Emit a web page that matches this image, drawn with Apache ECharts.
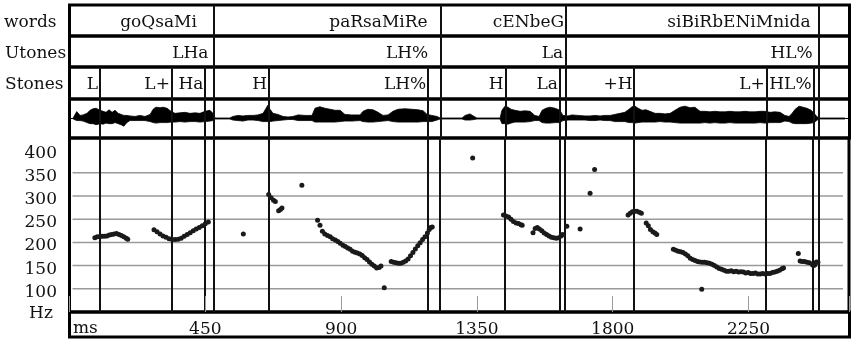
<!DOCTYPE html>
<html>
<head>
<meta charset="utf-8">
<script src="https://cdn.jsdelivr.net/npm/echarts@6/dist/echarts.min.js"></script>
<style>
  html, body { margin: 0; padding: 0; background: #fff; }
  #chart { width: 852px; height: 339px; }
</style>
</head>
<body>
<div id="chart"></div>
<script>
// ---- annotation tiers (times in ms) ----
const words = ['goQsaMi', 'paRsaMiRe', 'cENbeG', 'siBiRbENiMnida'];
const wordEnds = [480, 1229, 1643, 2483];
const wordLabelAt = [422, 1186, 1638, 2454];

const utones = ['LHa', 'LH%', 'La', 'HL%'];
const utoneLabelAt = [460, 1188, 1635, 2461];

const stones = ['L', 'L+', 'Ha', 'H', 'LH%', 'H', 'La', '+H', 'L+', 'HL%'];
const stoneEnds = [101, 339, 450, 661, 1188, 1444, 1624, 1871, 2309, 2464];

const timeMax = 2583;
const timeTicks = [450, 900, 1350, 1800, 2250];
const hzTicks = [100, 150, 200, 250, 300, 350, 400];
const hzGrid = [100, 150, 200, 250, 300, 350];

// ---- waveform envelope: time (ms), upper and lower amplitude ----
const waveMs = [12, 18, 24, 35, 45, 58, 68, 78, 88, 101, 111, 121, 131, 141, 151, 161, 171, 180, 190, 200,
  217, 233, 250, 267, 277, 286, 300, 310, 323, 336, 349, 366, 382, 399, 416, 432, 449, 465, 475, 482,
  531, 541, 558, 574, 591, 608, 624, 641, 651, 657, 664, 674, 690, 707, 724, 740, 757, 780, 803, 813,
  829, 846, 863, 879, 896, 912, 935, 962, 972, 988, 1005, 1022, 1038, 1055, 1071, 1088, 1111, 1134, 1154, 1171,
  1184, 1200, 1217, 1227, 1300, 1310, 1326, 1340, 1349, 1426, 1432, 1442, 1452, 1462, 1475, 1492, 1508, 1525, 1541, 1555,
  1565, 1578, 1591, 1608, 1624, 1634, 1651, 1664, 1684, 1707, 1724, 1740, 1757, 1773, 1790, 1806, 1823, 1839, 1853, 1863,
  1873, 1883, 1896, 1909, 1922, 1939, 1956, 1972, 1989, 2005, 2022, 2038, 2055, 2071, 2088, 2104, 2121, 2137, 2154, 2171,
  2187, 2204, 2220, 2237, 2253, 2270, 2287, 2303, 2320, 2336, 2353, 2369, 2383, 2393, 2403, 2416, 2429, 2442, 2456, 2466,
  2476, 2486, 2568];
const waveTop = [0.5, 2, 6.7, 3, 3.5, 5, 8, 9.5, 10, 8, 7, 6, 8.5, 6, 8, 5, 4, 3, 3, 2.5,
  2, 3, 2, 4, 9, 11, 10.5, 11, 10, 7, 5, 5.5, 6, 5, 5.5, 5, 7, 8, 5, 0.5,
  0.5, 2, 3, 2.5, 3, 3, 3.5, 5, 10, 13, 9, 5, 4, 2, 1.5, 2, 3.5, 3, 3, 10,
  11.5, 10, 9, 8, 8, 4, 3.5, 3.5, 7, 9, 8.5, 6, 3, 3.5, 7, 9, 9.5, 9, 8.5, 7.5,
  4, 3, 2, 0.5, 0.5, 3, 4.5, 2, 0.5, 0.5, 8, 12, 11, 9, 8, 7, 7.5, 7, 3, 2,
  8, 10, 11, 10, 8, 3, 2.5, 3.5, 3, 2.5, 2.5, 3, 2.5, 3, 3, 4, 5, 6, 9, 11.5,
  12, 10, 8, 8.5, 7, 5, 5, 4.5, 5, 8, 11, 12, 10.5, 11, 7, 7, 6.5, 7, 6.5, 6.5,
  7, 6.5, 6.5, 7, 6.5, 6.5, 7, 7, 6, 6.5, 6, 3, 2, 5, 9, 12, 11, 10, 8, 5,
  1.5, 0.5, 0.5];
const waveBottom = [0.5, 1.5, 2, 2, 2.5, 4, 5, 5, 6, 5, 5.5, 4.5, 5, 5, 4, 5, 6, 7.5, 4, 2,
  2, 2, 2, 3, 4, 4.5, 4, 4, 4, 3.5, 3.5, 3, 3.5, 3, 3, 3.5, 3, 2.5, 2, 0.5,
  0.5, 1.5, 2, 2.5, 1.5, 1.5, 2, 3, 3, 3.5, 3, 2.5, 2, 1.5, 1, 1, 2, 2, 2, 3.5,
  3.5, 3.5, 3.5, 3.5, 3, 2.5, 2.5, 2, 3, 3.5, 3.5, 3, 2.5, 2, 3, 3.5, 3.5, 3.5, 3.5, 3,
  3, 3, 1.5, 0.5, 0.5, 1.5, 1.5, 1, 0.5, 0.5, 5, 5, 5.5, 4.5, 3.5, 3.5, 3.5, 3, 2, 2,
  4, 4.5, 4.5, 4, 4, 2, 1.5, 1.5, 1.5, 1.5, 2, 2, 1.5, 2, 2, 3, 3, 3, 4, 4,
  4.5, 4, 3.5, 3.5, 3.5, 3.5, 3, 3.5, 3.5, 4, 4.5, 4.5, 4.5, 4.5, 4.5, 4, 4.5, 4, 4.5, 4.5,
  4, 4.5, 4.5, 4.5, 4.5, 4.5, 4, 4.5, 4, 4, 4, 2.5, 3, 4.5, 5, 5, 5, 5, 4.5, 4,
  1.5, 0.5, 0.5];

// ---- F0 track: [time ms, frequency Hz] ----
const pitchTrack = [
  [84, 210], [92, 212], [100, 212], [108, 213], [116, 213], [124, 214], [132, 216], [140, 217],
  [148, 218], [156, 219], [164, 217], [172, 215], [180, 212], [188, 209], [193, 207],
  [280, 227], [290, 223], [300, 218], [310, 214], [320, 211], [330, 208], [340, 206], [350, 206],
  [360, 207], [370, 209], [380, 213], [390, 217], [400, 221], [410, 225], [420, 229], [430, 232],
  [440, 236], [450, 240], [460, 244],
  [576, 218],
  [660, 303], [668, 296], [676, 291], [682, 288], [693, 268], [699, 271], [704, 274],
  [770, 323],
  [822, 248], [830, 237], [838, 224], [846, 218], [855, 215], [864, 212], [872, 208], [881, 205],
  [889, 202], [897, 198], [906, 194], [914, 191], [922, 188], [930, 185], [938, 181], [946, 179],
  [954, 177], [962, 175], [970, 172], [978, 167], [986, 163], [994, 158], [1002, 153], [1010, 149],
  [1018, 145], [1026, 146], [1032, 149],
  [1043, 102],
  [1066, 159], [1074, 157], [1082, 156], [1090, 155], [1098, 155], [1106, 157], [1114, 160], [1122, 164],
  [1130, 171], [1138, 178], [1146, 186], [1154, 193], [1162, 199], [1170, 206], [1178, 212], [1186, 220],
  [1192, 228], [1197, 232], [1202, 233],
  [1336, 382],
  [1438, 259], [1446, 257], [1455, 255], [1463, 250], [1471, 245], [1480, 242], [1488, 241], [1496, 238], [1500, 237],
  [1536, 221], [1543, 230], [1550, 232], [1557, 229], [1565, 225], [1573, 220], [1581, 217], [1589, 214],
  [1597, 211], [1605, 210], [1613, 209], [1621, 210], [1629, 214], [1634, 217],
  [1648, 235],
  [1692, 229], [1725, 306], [1740, 357],
  [1851, 259], [1858, 263], [1865, 266], [1872, 267], [1880, 267], [1888, 265], [1895, 263],
  [1911, 242], [1918, 236], [1925, 228], [1933, 223], [1940, 220], [1946, 217],
  [2001, 185], [2009, 183], [2017, 181], [2025, 180], [2033, 178], [2041, 175], [2049, 171], [2057, 166],
  [2065, 163], [2073, 161], [2081, 159], [2089, 158], [2097, 157], [2105, 157], [2113, 156], [2121, 155],
  [2129, 153], [2137, 150], [2145, 147], [2153, 144], [2161, 142], [2169, 140], [2177, 138], [2185, 138],
  [2193, 139], [2201, 137], [2209, 138], [2217, 136], [2225, 137], [2233, 136], [2241, 134], [2249, 135],
  [2257, 133], [2265, 133], [2273, 134], [2281, 132], [2289, 132], [2297, 133], [2305, 132], [2313, 133],
  [2321, 133], [2329, 135], [2337, 136], [2345, 138], [2353, 140], [2361, 143], [2366, 145],
  [2095, 99],
  [2415, 176],
  [2421, 160], [2428, 159], [2436, 159], [2444, 157], [2452, 156], [2462, 152], [2466, 150], [2470, 152],
  [2475, 158], [2480, 157]
];

// ---- drawing ----
const FONT = 'DejaVu Serif';
const FONT_SIZE = 17;
const INK = '#111';

// stacked panels: words, Utones, Stones, waveform, F0, time row
const panels = [
  { top: 5, height: 31 },
  { top: 36, height: 31 },
  { top: 67, height: 32 },
  { top: 99, height: 39 },
  { top: 138, height: 174 },
  { top: 312, height: 25 }
];
const yRanges = [[0, 1], [0, 1], [0, 1], [-19, 19], [50, 425], [0, 1]];

const stoneAndWordEnds = stoneEnds.concat(wordEnds);

function textStyle(extra) {
  return Object.assign({ fill: INK, fontFamily: FONT, fontSize: FONT_SIZE }, extra);
}

function boundarySeries(gi, times) {
  const yMid = (yRanges[gi][0] + yRanges[gi][1]) / 2;
  return {
    type: 'custom', xAxisIndex: gi, yAxisIndex: gi, z: 3, silent: true,
    data: times.map(t => [t, yMid]),
    renderItem: (params, api) => {
      const cs = params.coordSys;
      const x = Math.round(api.coord([api.value(0), api.value(1)])[0]);
      return {
        type: 'line',
        shape: { x1: x, y1: cs.y, x2: x, y2: cs.y + cs.height },
        style: { stroke: INK, lineWidth: 2 }
      };
    }
  };
}

function labelSeries(gi, names, anchors, dx) {
  return {
    type: 'custom', xAxisIndex: gi, yAxisIndex: gi, z: 4, silent: true,
    data: anchors.map(t => [t, 0.5]),
    renderItem: (params, api) => {
      const cs = params.coordSys;
      const x = api.coord([api.value(0), api.value(1)])[0] + dx;
      return {
        type: 'text', x: x, y: cs.y + cs.height / 2 + 2,
        style: textStyle({ text: names[params.dataIndex], align: 'right', verticalAlign: 'middle' })
      };
    }
  };
}

const option = {
  animation: false,
  backgroundColor: '#fff',
  grid: panels.map(p => ({
    left: 69.5, right: 2.5, top: p.top, height: p.height,
    show: true, borderColor: '#000', borderWidth: 3, backgroundColor: 'transparent'
  })),
  xAxis: panels.map((p, i) => {
    const ax = {
      gridIndex: i, type: 'value', min: 0, max: timeMax,
      show: false, splitLine: { show: false }
    };
    if (i === 3) {
      Object.assign(ax, {
        show: true,
        axisLine: { show: true, onZero: true, lineStyle: { color: '#000', width: 1 } },
        axisTick: { show: false }, axisLabel: { show: false }
      });
    }
    if (i === 4) {
      Object.assign(ax, {
        show: true, interval: 450, z: 10,
        axisLine: { show: false },
        axisTick: { show: true, inside: true, length: 16, lineStyle: { color: '#9a9a9a', width: 1 } },
        axisLabel: {
          show: true, margin: 9, color: INK, fontFamily: FONT, fontSize: FONT_SIZE,
          formatter: v => (timeTicks.indexOf(v) >= 0 ? String(v) : '')
        }
      });
    }
    return ax;
  }),
  yAxis: panels.map((p, i) => ({
    gridIndex: i, type: 'value', min: yRanges[i][0], max: yRanges[i][1],
    show: false, splitLine: { show: false }
  })),
  graphic: [
    { type: 'text', x: 4, y: 22.5, style: textStyle({ text: 'words', verticalAlign: 'middle' }) },
    { type: 'text', x: 5, y: 53.5, style: textStyle({ text: 'Utones', verticalAlign: 'middle' }) },
    { type: 'text', x: 5, y: 85, style: textStyle({ text: 'Stones', verticalAlign: 'middle' }) },
    { type: 'text', x: 41, y: 314, style: textStyle({ text: 'Hz', align: 'center', verticalAlign: 'middle' }) },
    { type: 'text', x: 73, y: 329, style: textStyle({ text: 'ms', verticalAlign: 'middle' }) }
  ],
  series: [
    // tier boundaries
    boundarySeries(0, wordEnds),
    boundarySeries(1, wordEnds),
    boundarySeries(2, stoneAndWordEnds),
    boundarySeries(3, stoneAndWordEnds),
    boundarySeries(4, stoneAndWordEnds),
    // tier labels
    labelSeries(0, words, wordLabelAt, 0),
    labelSeries(1, utones, utoneLabelAt, 0),
    labelSeries(2, stones, stoneEnds, -2),
    // F0 reference lines
    {
      type: 'custom', xAxisIndex: 4, yAxisIndex: 4, z: 1, silent: true,
      data: hzGrid.map(h => [0, h]),
      renderItem: (params, api) => {
        const cs = params.coordSys;
        const y = api.coord([api.value(0), api.value(1)])[1];
        return {
          type: 'line',
          shape: { x1: cs.x + 3, y1: y, x2: cs.x + cs.width - 6, y2: y },
          style: { stroke: '#9a9a9a', lineWidth: 1.5 }
        };
      }
    },
    // F0 scale labels, set slightly below their reference values
    {
      type: 'custom', xAxisIndex: 4, yAxisIndex: 4, z: 4, silent: true,
      data: hzTicks.map(h => [0, h]),
      renderItem: (params, api) => {
        const cs = params.coordSys;
        const y = api.coord([api.value(0), api.value(1)])[1];
        return {
          type: 'text', x: cs.x - 12.5, y: y + 3.5,
          style: textStyle({ text: String(hzTicks[params.dataIndex]), align: 'right', verticalAlign: 'middle' })
        };
      }
    },
    // waveform envelope
    {
      type: 'line', xAxisIndex: 3, yAxisIndex: 3, z: 2, silent: true,
      data: waveMs.map((t, i) => [t, waveTop[i]]),
      showSymbol: false, lineStyle: { color: '#000', width: 0.8 },
      areaStyle: { color: '#000', opacity: 1 }
    },
    {
      type: 'line', xAxisIndex: 3, yAxisIndex: 3, z: 2, silent: true,
      data: waveMs.map((t, i) => [t, -waveBottom[i]]),
      showSymbol: false, lineStyle: { color: '#000', width: 0.8 },
      areaStyle: { color: '#000', opacity: 1 }
    },
    // F0 points
    {
      type: 'scatter', xAxisIndex: 4, yAxisIndex: 4, z: 5, silent: true,
      data: pitchTrack, symbol: 'circle', symbolSize: 5,
      itemStyle: { color: '#1a1a1a', opacity: 1 }
    }
  ]
};

const chart = echarts.init(document.getElementById('chart'), null, { renderer: 'canvas' });
chart.setOption(option);
</script>
</body>
</html>
